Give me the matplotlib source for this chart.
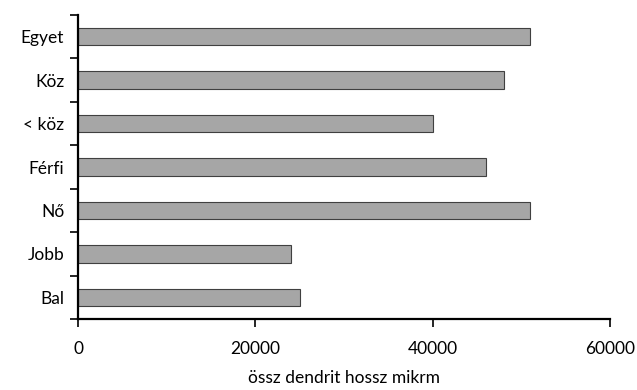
import matplotlib.pyplot as plt
import numpy as np

plt.rcParams['font.family'] = ['Lato', 'DejaVu Sans']

# kategóriák fentről lefelé
categories = ["Egyet", "Köz", "< köz", "Férfi", "Nő", "Jobb", "Bal"]
values = [51000, 48000, 40000, 46000, 51000, 24000, 25000]
xticks = [0, 20000, 40000, 60000]

fig = plt.figure(figsize=(6.37, 3.90), dpi=100)
ax = fig.add_axes([0.1225, 0.182, 0.835, 0.7795])

y = np.arange(len(categories))[::-1]
ax.barh(y, values, height=0.4, color='#a6a6a6', edgecolor='#404040', linewidth=0.8)

ax.set_xlim(0, 60000)
ax.set_ylim(-0.5, len(categories) - 0.5)
ax.set_xticks(xticks)
ax.set_xticklabels([str(t) for t in xticks], fontsize=12.5)
ax.set_yticks(y)
ax.set_yticklabels(categories, fontsize=12.5)
ax.tick_params(axis='y', length=0, pad=10)
# kis osztások a kategóriák között
ax.set_yticks(np.arange(-0.5, len(categories)), minor=True)
ax.tick_params(axis='y', which='minor', length=6, width=1.2, direction='out')
ax.tick_params(axis='x', length=6, width=1.2, direction='out', pad=10)

for s in ['top', 'right']:
    ax.spines[s].set_visible(False)
for s in ['left', 'bottom']:
    ax.spines[s].set_linewidth(1.6)

ax.set_xlabel('össz dendrit hossz mikrm', fontsize=12.5, labelpad=9)

fig.savefig('out.png', dpi=100)
